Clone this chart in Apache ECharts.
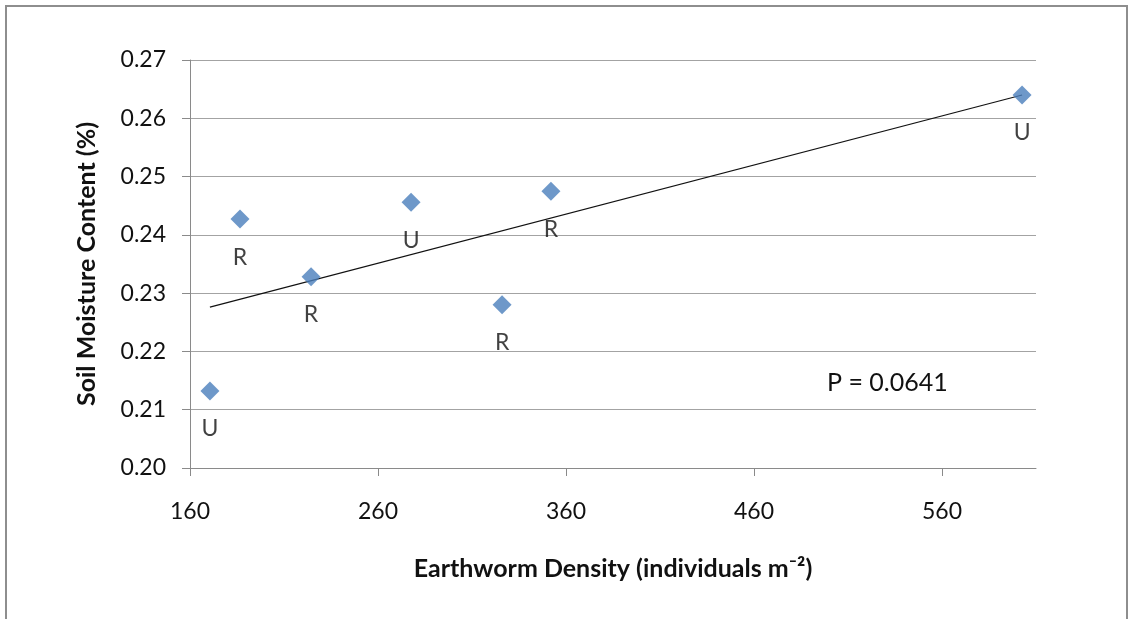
<!DOCTYPE html>
<html>
<head>
<meta charset="utf-8">
<script src="https://cdn.jsdelivr.net/npm/echarts@6/dist/echarts.min.js"></script>
<style>
  html, body { margin: 0; padding: 0; background: #fff; }
  #chart { width: 1130px; height: 619px; }
</style>
</head>
<body>
<div id="chart"></div>
<script>
// earthworm density (x) vs soil moisture (y), site type label per point
const density = [170.6, 186.6, 224.4, 277.6, 326.0, 352.0, 602.6];
const moisture = [0.2132, 0.2427, 0.2328, 0.2456, 0.2280, 0.2475, 0.2640];
const siteType = ['U', 'R', 'R', 'U', 'R', 'R', 'U'];
// linear trendline end points
const trendX = [170.6, 602.6];
const trendY = [0.2276, 0.2640];
const xTicks = [160, 260, 360, 460, 560];
const pText = 'P = 0.0641';

const font = 'Lato, "Open Sans", sans-serif';
const myChart = echarts.init(document.getElementById('chart'));

const option = {
    animation: false,
    backgroundColor: '#fff',
    // 图表区外框
    graphic: [
        {
            type: 'rect',
            shape: { x: 6, y: 6, width: 1121, height: 700 },
            style: { fill: 'none', stroke: '#8e8e8e', lineWidth: 2 },
            silent: true
        },
        {
            type: 'text',
            left: 827,
            top: 370,
            style: { text: pText, fontFamily: font, fontSize: 25, fill: '#111' }
        }
    ],
    grid: { left: 190, top: 60, right: 94, bottom: 151 },
    xAxis: {
        type: 'value',
        min: 160,
        max: 610,
        interval: 100,
        name: 'Earthworm Density (individuals m\u207B\u00B2)',
        nameLocation: 'middle',
        nameGap: 88,
        nameTextStyle: { fontFamily: font, fontSize: 25, fontWeight: 'bold', color: '#111' },
        axisLine: { show: true, lineStyle: { color: '#8a8a8a', width: 1 } },
        axisTick: { show: true, length: 8, customValues: xTicks, lineStyle: { color: '#8a8a8a' } },
        axisLabel: { customValues: xTicks, margin: 32, fontFamily: font, fontSize: 23, color: '#111' },
        splitLine: { show: false }
    },
    yAxis: {
        type: 'value',
        min: 0.2,
        max: 0.27,
        interval: 0.01,
        name: 'Soil Moisture Content (%)',
        nameLocation: 'middle',
        nameGap: 91,
        nameTextStyle: { fontFamily: font, fontSize: 25, fontWeight: 'bold', color: '#111' },
        axisLine: { show: true, lineStyle: { color: '#8a8a8a', width: 1 } },
        axisTick: { show: true, length: 8, lineStyle: { color: '#8a8a8a' } },
        axisLabel: {
            margin: 24,
            fontFamily: font,
            fontSize: 23,
            color: '#111',
            formatter: v => v.toFixed(2)
        },
        splitLine: { show: true, lineStyle: { color: '#a3a3a3', width: 1 } }
    },
    series: [
        {
            type: 'line',
            data: trendX.map((x, i) => [x, trendY[i]]),
            symbol: 'none',
            lineStyle: { color: '#111', width: 1.2 },
            z: 3
        },
        {
            type: 'scatter',
            data: density.map((x, i) => ({ value: [x, moisture[i]], name: siteType[i] })),
            symbol: 'diamond',
            symbolSize: [19, 19],
            itemStyle: { color: '#4a7ebb' },
            label: {
                show: true,
                position: 'bottom',
                distance: 17,
                formatter: p => p.name,
                fontFamily: font,
                fontSize: 23,
                color: '#111'
            },
            z: 4
        }
    ]
};

myChart.setOption(option);
</script>
</body>
</html>
